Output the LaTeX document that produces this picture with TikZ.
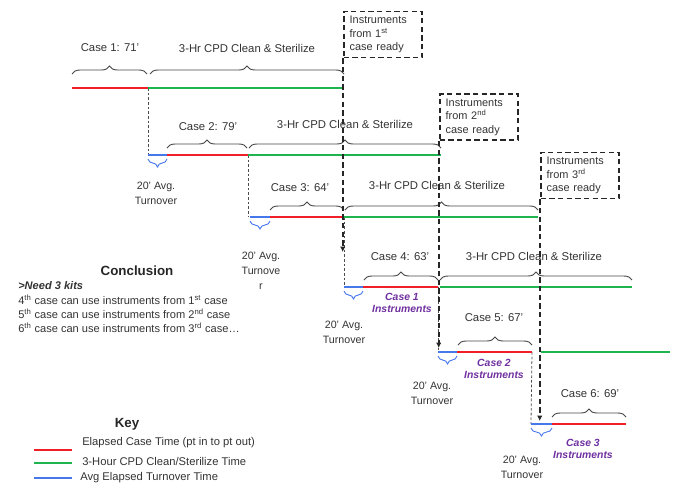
\documentclass[tikz,border=0pt]{standalone}
\usepackage{fontspec}
\setmainfont{Liberation Sans}
\usetikzlibrary{decorations.pathreplacing,arrows.meta}
\definecolor{casered}{RGB}{240,30,40}
\definecolor{cpdgreen}{RGB}{30,180,80}
\definecolor{turnblue}{RGB}{70,120,235}
\definecolor{instpurple}{RGB}{112,48,160}
\definecolor{bracegray}{RGB}{70,70,70}
\tikzset{
  caseline/.style={casered,line width=1.3pt},
  cpdline/.style={cpdgreen,line width=1.3pt},
  turnline/.style={turnblue,line width=1.3pt},
  graybrace/.style={bracegray,line width=0.7pt,decorate,decoration={brace,amplitude=6pt}},
  bluebrace/.style={turnblue,line width=0.7pt,decorate,decoration={brace,amplitude=6pt,mirror}},
  lbl/.style={font=\fontsize{8.5}{10}\selectfont,text=black!80,inner sep=0pt},
  turnlbl/.style={font=\fontsize{8}{11.2}\selectfont,text=black!80,align=center,inner sep=0pt},
  instlbl/.style={font=\fontsize{7.8}{9.5}\selectfont\bfseries\itshape,text=instpurple,align=center,inner sep=0pt},
  readybox/.style={draw=black!85,line width=1.4pt,dash pattern=on 4pt off 2.5pt,minimum width=57pt,minimum height=34pt,text width=50pt,align=left,inner xsep=4.5pt,font=\fontsize{8.2}{10.2}\selectfont,text=black!80},
  readyarrow/.style={black!85,line width=1.4pt,dash pattern=on 4pt off 2.5pt,-{Latex[length=4pt,width=4pt]}},
  linkline/.style={black!70,line width=0.6pt,dash pattern=on 2pt off 1.5pt},
  txt/.style={font=\fontsize{8.3}{10}\selectfont,text=black!80,inner sep=0pt,anchor=west}
}
\begin{document}
\begin{tikzpicture}[x=0.75pt,y=-0.75pt]
\useasboundingbox (0,0) rectangle (676,490);
% ---- coordinates of rows
\coordinate (a1) at (72,88);  \coordinate (b1) at (148,88);  \coordinate (c1) at (344,88);
\coordinate (t2) at (148,155); \coordinate (a2) at (167,155); \coordinate (b2) at (248,155); \coordinate (c2) at (441,155);
\coordinate (t3) at (250,217); \coordinate (a3) at (270,217); \coordinate (b3) at (344,217); \coordinate (c3) at (538,217);
\coordinate (t4) at (344,287); \coordinate (a4) at (363,287); \coordinate (b4) at (438,287); \coordinate (g4) at (440,287); \coordinate (c4) at (632,287);
\coordinate (t5) at (438,352); \coordinate (a5) at (457,352); \coordinate (b5) at (532,352); \coordinate (g5) at (541,352); \coordinate (c5) at (670,352);
\coordinate (t6) at (531,424); \coordinate (a6) at (552,424); \coordinate (b6) at (626,424);
\coordinate (v3) at (248,217);
% ---- links
\draw[linkline] (b1) -- (t2);
\draw[linkline] (b2) -- (v3);
\draw[linkline] (b3) -- (t4);
\draw[linkline] (b4) -- (t5);
\draw[linkline] (b5) -- (t6);
% ---- row 1
\draw[caseline] (a1) -- (b1);
\draw[cpdline] (b1) -- (c1);
\draw[graybrace] (72,74) -- (147,74);
\draw[graybrace] (150,74) -- (344,74);
\node[lbl] (case1) at (110,48) {Case 1: 71’};
\node[lbl] (cpd1) at (247,48) {3-Hr CPD Clean \& Sterilize};
% ---- row 2
\draw[turnline] (t2) -- (a2);
\draw[caseline] (a2) -- (b2);
\draw[cpdline] (b2) -- (c2);
\draw[graybrace] (167,148) -- (247,148);
\draw[graybrace] (249,148) -- (441,148);
\draw[bluebrace] (148,159) -- (167,159);
\node[lbl] (case2) at (208,127) {Case 2: 79’};
\node[lbl] (cpd2) at (345,124) {3-Hr CPD Clean \& Sterilize};
\node[turnlbl] (turn2) at (156,193) {20’ Avg.\\Turnover};
% ---- row 3
\draw[turnline] (t3) -- (a3);
\draw[caseline] (a3) -- (b3);
\draw[cpdline] (b3) -- (c3);
\draw[graybrace] (270,210) -- (344,210);
\draw[graybrace] (345,210) -- (538,210);
\draw[bluebrace] (250,221) -- (270,221);
\node[lbl] (case3) at (300,188) {Case 3: 64’};
\node[lbl] (cpd3) at (437,185) {3-Hr CPD Clean \& Sterilize};
\node[turnlbl] (turn3) at (261,271) {20’ Avg.\\Turnove\\r};
% ---- row 4
\draw[turnline] (t4) -- (a4);
\draw[caseline] (a4) -- (b4);
\draw[cpdline] (g4) -- (c4);
\draw[graybrace] (364,280) -- (438,280);
\draw[graybrace] (440,280) -- (632,280);
\draw[bluebrace] (344,291) -- (363,291);
\node[lbl] (case4) at (400,257) {Case 4: 63’};
\node[lbl] (cpd4) at (534,256) {3-Hr CPD Clean \& Sterilize};
\node[instlbl] (inst1) at (402,303) {Case 1\\Instruments};
\node[turnlbl] (turn4) at (344,332) {20’ Avg.\\Turnover};
% ---- row 5
\draw[turnline] (t5) -- (a5);
\draw[caseline] (a5) -- (b5);
\draw[cpdline] (g5) -- (c5);
\draw[graybrace] (458,345) -- (532,345);
\draw[bluebrace] (438,356) -- (457,356);
\node[lbl] (case5) at (494,318) {Case 5: 67’};
\node[instlbl] (inst2) at (494,369) {Case 2\\Instruments};
\node[turnlbl] (turn5) at (432,393) {20’ Avg.\\Turnover};
% ---- row 6
\draw[turnline] (t6) -- (a6);
\draw[caseline] (a6) -- (b6);
\draw[graybrace] (552,417) -- (626,417);
\draw[bluebrace] (531,428) -- (552,428);
\node[lbl] (case6) at (590,394) {Case 6: 69’};
\node[instlbl] (inst3) at (583,449) {Case 3\\Instruments};
\node[turnlbl] (turn6) at (522,467) {20’ Avg.\\Turnover};
% ---- ready boxes
\node[readybox] (box1) at (383,34.5) {Instruments\\from 1\textsuperscript{st}\\case ready};
\node[readybox] (box2) at (479,117) {Instruments\\from 2\textsuperscript{nd}\\case ready};
\node[readybox] (box3) at (580,175.5) {Instruments\\from 3\textsuperscript{rd}\\case ready};
\coordinate (e1) at (box1.south west |- 0,252);
\coordinate (e2) at (box2.south west |- 0,348);
\coordinate (e3) at (box3.south west |- 0,421);
\draw[readyarrow] (box1.south west) -- (e1);
\draw[readyarrow] (box2.south west) -- (e2);
\draw[readyarrow] (box3.south west) -- (e3);
% ---- conclusion
\node[font=\fontsize{10}{12}\selectfont\bfseries,text=black!85,inner sep=0pt] (concl) at (137,271) {Conclusion};
\node[txt,font=\fontsize{8.3}{10}\selectfont\bfseries\itshape] (need) at (18,286) {>Need 3 kits};
\node[txt] (l4) at (18,299.5) {4\textsuperscript{th} case can use instruments from 1\textsuperscript{st} case};
\node[txt] (l5) at (18,313.5) {5\textsuperscript{th} case can use instruments from 2\textsuperscript{nd} case};
\node[txt] (l6) at (18,327.5) {6\textsuperscript{th} case can use instruments from 3\textsuperscript{rd} case…};
% ---- key
\node[font=\fontsize{10}{12}\selectfont\bfseries,text=black!85,inner sep=0pt] (key) at (127,424) {Key};
\coordinate (k1a) at (34,450); \coordinate (k1b) at (72,450);
\coordinate (k2a) at (34,463); \coordinate (k2b) at (72,463);
\coordinate (k3a) at (34,478); \coordinate (k3b) at (72,478);
\draw[caseline] (k1a) -- (k1b);
\draw[cpdline] (k2a) -- (k2b);
\draw[turnline] (k3a) -- (k3b);
\node[txt,font=\fontsize{8.4}{10}\selectfont] (kt1) at (82,443) {Elapsed Case Time (pt in to pt out)};
\node[txt,font=\fontsize{8.4}{10}\selectfont] (kt2) at (82,461) {3-Hour CPD Clean/Sterilize Time};
\node[txt,font=\fontsize{8.4}{10}\selectfont] (kt3) at (80,478) {Avg Elapsed Turnover Time};
\end{tikzpicture}
\end{document}
